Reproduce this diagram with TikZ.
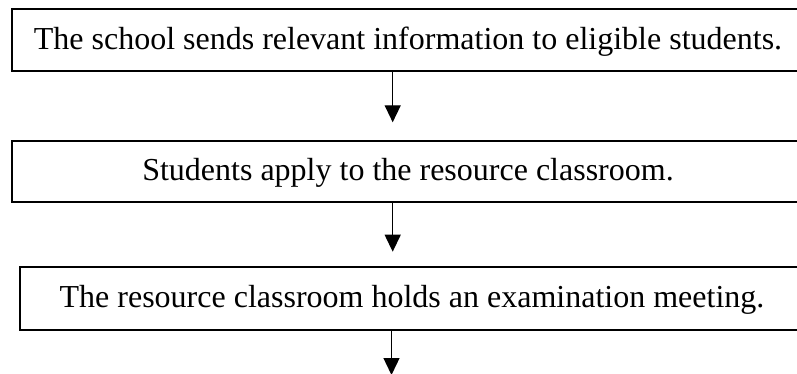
\documentclass[tikz,border=0pt]{standalone}
\usepackage{fontspec}
\setmainfont{Liberation Serif}
\usetikzlibrary{arrows.meta}
\begin{document}
\begin{tikzpicture}[x=0.75pt,y=-0.75pt,
  stepbox/.style={draw=black, line width=1.5pt, inner sep=0pt,
    font=\fontsize{24pt}{28pt}\selectfont, text height=16.5pt, text depth=2.8pt},
  arr/.style={draw=black, line width=1pt, -{Triangle[width=12pt,length=12.75pt]}}]
\useasboundingbox (0,0) rectangle (797,374);
\node[stepbox, minimum width=594pt, minimum height=46.3pt] (b1) at (408,40.2)
  {The school sends relevant information to eligible students.};
\node[stepbox, minimum width=594pt, minimum height=45.3pt] (b2) at (408,171.5)
  {Students apply to the resource classroom.};
\node[stepbox, minimum width=588pt, minimum height=47pt] (b3) at (412,298.7)
  {The resource classroom holds an examination meeting.};
\coordinate (a1) at (392.7,0);
\coordinate (a2) at (392.7,0);
\coordinate (end3) at (391.5,375);
\draw[arr, shorten >=13.5pt] (b1.south -| a1) -- (b2.north -| a1);
\draw[arr, shorten >=11pt] (b2.south -| a2) -- (b3.north -| a2);
\draw[arr] (b3.south -| end3) -- (end3);
\end{tikzpicture}
\end{document}
